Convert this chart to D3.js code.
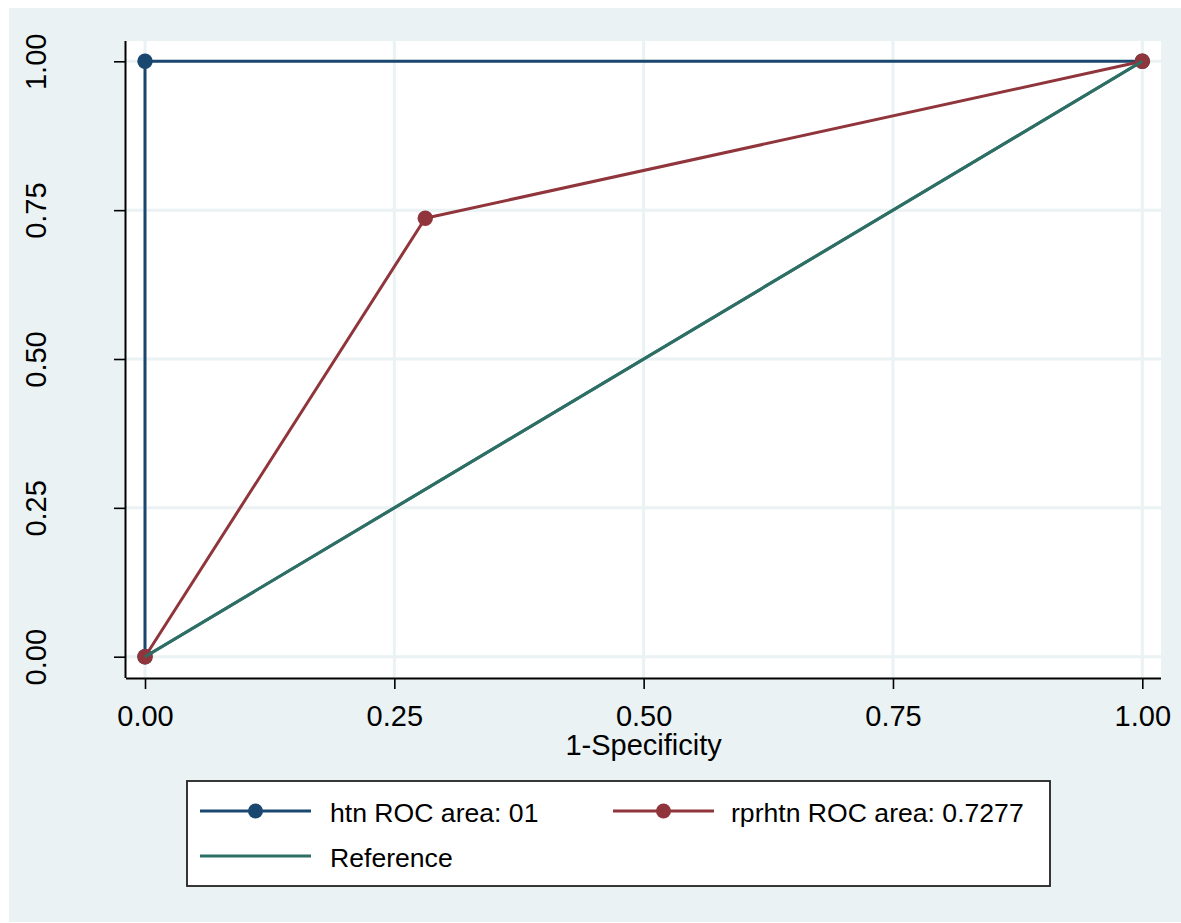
<!DOCTYPE html>
<html>
<head>
<meta charset="utf-8">
<script src="https://cdn.jsdelivr.net/npm/d3@7"></script>
<style>
  html, body { margin: 0; padding: 0; background: #ffffff; }
  svg { display: block; }
  text { font-family: "Liberation Sans", Arial, sans-serif; fill: #000; }
</style>
</head>
<body>
<svg id="chart" width="1181" height="923"></svg>
<script>
// ---- Data ----
const htnX = [0, 0, 1];
const htnY = [0, 1, 1];
const rprhtnX = [0, 0.281, 1];
const rprhtnY = [0, 0.7364, 1];
const refX = [0, 1];
const refY = [0, 1];
const tickValues = [0, 0.25, 0.5, 0.75, 1];
const tickLabels = ["0.00", "0.25", "0.50", "0.75", "1.00"];
const xTitle = "1-Specificity";
const legendLabels = ["htn ROC area: 01", "rprhtn ROC area: 0.7277", "Reference"];

const colors = { htn: "#1a476f", rprhtn: "#90353b", ref: "#2d6e65" };
const bg = "#eaf2f3";

const svg = d3.select("#chart");

// outer background
svg.append("rect").attr("x", 9).attr("y", 8).attr("width", 1172).attr("height", 914).attr("fill", bg);

// plot region
const plot = { left: 126, top: 41, right: 1161, bottom: 678 };
svg.append("rect")
  .attr("x", plot.left).attr("y", plot.top)
  .attr("width", plot.right - plot.left).attr("height", plot.bottom - plot.top)
  .attr("fill", "#ffffff");

const x = d3.scaleLinear().domain([0, 1]).range([145, 1142.3]);
const y = d3.scaleLinear().domain([0, 1]).range([656.7, 61.3]);

// gridlines
const grid = svg.append("g");
grid.selectAll("line.v").data(tickValues).join("line")
  .attr("x1", d => x(d)).attr("x2", d => x(d))
  .attr("y1", plot.top).attr("y2", plot.bottom)
  .attr("stroke", bg).attr("stroke-width", 3);
grid.selectAll("line.h").data(tickValues).join("line")
  .attr("x1", plot.left).attr("x2", plot.right)
  .attr("y1", d => y(d)).attr("y2", d => y(d))
  .attr("stroke", bg).attr("stroke-width", 3);

// axes
const xAxis = d3.axisBottom(x).tickValues(tickValues)
  .tickFormat((d, i) => tickLabels[i]).tickSize(11).tickPadding(8).tickSizeOuter(0);
const gx = svg.append("g").attr("transform", `translate(0,${plot.bottom})`).call(xAxis);
gx.select(".domain").attr("d", `M${plot.left},0.5H${plot.right}`).attr("stroke", "#000").attr("stroke-width", 2);
gx.selectAll(".tick line").attr("stroke", "#000").attr("stroke-width", 1.6);
gx.selectAll(".tick text").attr("font-size", 29).attr("font-family", "Liberation Sans, Arial, sans-serif")
  .attr("fill", "#000").attr("dy", null).attr("y", 48);

const yAxis = d3.axisLeft(y).tickValues(tickValues)
  .tickFormat((d, i) => tickLabels[i]).tickSize(12).tickSizeOuter(0);
const gy = svg.append("g").attr("transform", `translate(${plot.left},0)`).call(yAxis);
gy.select(".domain").attr("d", `M-0.5,${plot.top}V${plot.bottom}`).attr("stroke", "#000").attr("stroke-width", 2);
gy.selectAll(".tick line").attr("stroke", "#000").attr("stroke-width", 1.6);
gy.selectAll(".tick text")
  .attr("font-size", 29).attr("font-family", "Liberation Sans, Arial, sans-serif").attr("fill", "#000")
  .attr("x", null).attr("dy", null).attr("y", null)
  .attr("text-anchor", "middle")
  .attr("transform", "translate(-80,0) rotate(-90)");

// axis title
svg.append("text").attr("x", 643.6).attr("y", 755).attr("text-anchor", "middle")
  .attr("font-size", 29).text(xTitle);

// lines
const line = d3.line().x(d => x(d[0])).y(d => y(d[1]));
const series = [
  { key: "ref", xs: refX, ys: refY, markers: false },
  { key: "rprhtn", xs: rprhtnX, ys: rprhtnY, markers: true },
  { key: "htn", xs: htnX, ys: htnY, markers: true }
];
// draw order: htn, rprhtn, ref lines; markers on top
const drawOrder = ["htn", "rprhtn", "ref"];
drawOrder.forEach(k => {
  const s = series.find(z => z.key === k);
  const pts = s.xs.map((v, i) => [v, s.ys[i]]);
  svg.append("path").datum(pts).attr("d", line)
    .attr("fill", "none").attr("stroke", colors[k]).attr("stroke-width", 3)
    .attr("stroke-linejoin", "round");
});
["htn", "rprhtn"].forEach(k => {
  const s = series.find(z => z.key === k);
  const pts = s.xs.map((v, i) => [v, s.ys[i]]);
  svg.append("g").selectAll("circle").data(pts).join("circle")
    .attr("cx", d => x(d[0])).attr("cy", d => y(d[1])).attr("r", 7.7)
    .attr("fill", colors[k]);
});
// redraw reference line over markers at the ends like reference image
{
  const pts = refX.map((v, i) => [v, refY[i]]);
  svg.append("path").datum(pts).attr("d", line)
    .attr("fill", "none").attr("stroke", colors.ref).attr("stroke-width", 3);
}

// legend
const lg = svg.append("g");
lg.append("rect").attr("x", 187).attr("y", 781).attr("width", 863).attr("height", 105)
  .attr("fill", "#fff").attr("stroke", "#222").attr("stroke-width", 1.8);
const legendItems = [
  { label: legendLabels[0], color: colors.htn, x1: 200, x2: 311, ly: 811, tx: 330, ty: 822, marker: true },
  { label: legendLabels[1], color: colors.rprhtn, x1: 613, x2: 714, ly: 811, tx: 731, ty: 822, marker: true },
  { label: legendLabels[2], color: colors.ref, x1: 200, x2: 311, ly: 856, tx: 330, ty: 867, marker: false }
];
legendItems.forEach(it => {
  lg.append("line").attr("x1", it.x1).attr("x2", it.x2).attr("y1", it.ly).attr("y2", it.ly)
    .attr("stroke", it.color).attr("stroke-width", 3);
  if (it.marker) {
    lg.append("circle").attr("cx", (it.x1 + it.x2) / 2).attr("cy", it.ly).attr("r", 7.5).attr("fill", it.color);
  }
  lg.append("text").attr("x", it.tx).attr("y", it.ty).attr("font-size", 26.6).text(it.label);
});
</script>
</body>
</html>
